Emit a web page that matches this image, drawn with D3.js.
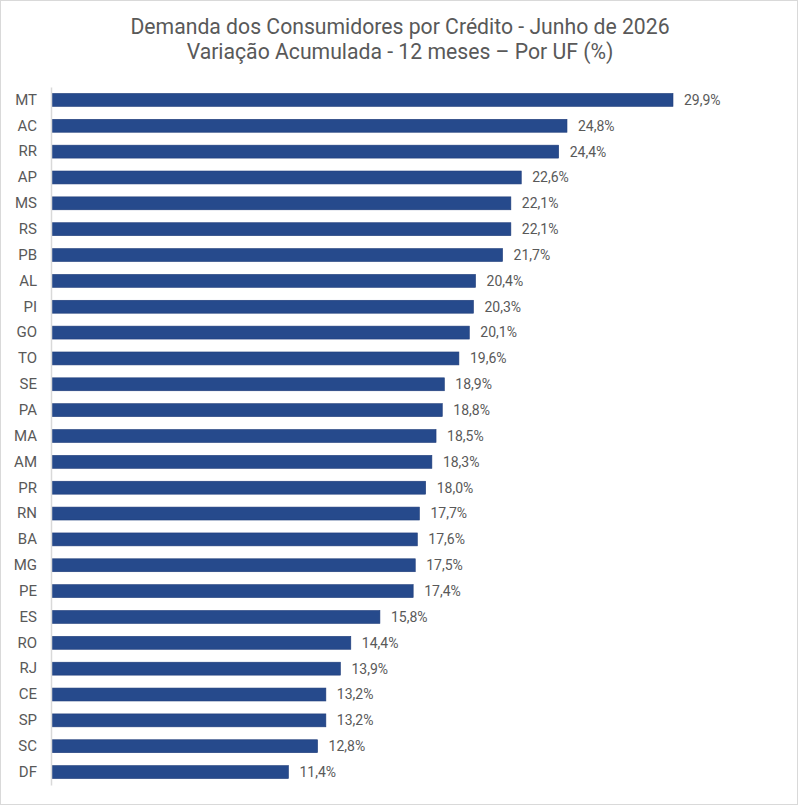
<!DOCTYPE html>
<html><head><meta charset="utf-8">
<script src="https://cdn.jsdelivr.net/npm/d3@7"></script>
<style>body{margin:0;background:#fff}svg{display:block}text{font-family:Roboto,sans-serif}</style>
</head><body><svg id="c" width="800" height="806"></svg>
<script>
const ufs = ["MT","AC","RR","AP","MS","RS","PB","AL","PI","GO","TO","SE","PA","MA","AM","PR","RN","BA","MG","PE","ES","RO","RJ","CE","SP","SC","DF"];
const values = [29.9,24.8,24.4,22.6,22.1,22.1,21.7,20.4,20.3,20.1,19.6,18.9,18.8,18.5,18.3,18.0,17.7,17.6,17.5,17.4,15.8,14.4,13.9,13.2,13.2,12.8,11.4];
const titleLines = ["Demanda dos Consumidores por Crédito - Junho de 2026","Variação Acumulada - 12 meses – Por UF (%)"];
const data = ufs.map((u,i)=>({uf:u,v:values[i]}));
const svg = d3.select("#c");
svg.append("rect").attr("x",0.5).attr("y",0.5).attr("width",797).attr("height",804).attr("fill","#fff").attr("stroke","#d9d9d9");
svg.selectAll("text.title").data(titleLines).join("text").attr("class","title")
  .attr("x",400).attr("y",(d,i)=>33.5+i*25).attr("text-anchor","middle")
  .attr("font-size",21.2).attr("fill","#595959").text(d=>d);
const x = d3.scaleLinear().domain([0,35]).range([51.5,779]);
const y = d3.scaleBand().domain(ufs).range([87,785]).paddingInner(0.5).paddingOuter(0.25);
svg.append("g").selectAll("rect").data(data).join("rect")
  .attr("x",x(0)).attr("y",d=>y(d.uf)).attr("width",d=>x(d.v)-x(0)).attr("height",y.bandwidth())
  .attr("fill","#264a8c").attr("stroke","#1f3c7a").attr("stroke-width",0.6);
const ax = svg.append("g").attr("transform",`translate(${x(0)-0.5},0)`).call(d3.axisLeft(y).tickSize(0).tickPadding(14));
ax.select(".domain").attr("stroke","#d9d9d9").attr("stroke-width",1.5);
ax.selectAll("text").attr("font-size",15).attr("fill","#595959").attr("font-family","Roboto,sans-serif");
svg.append("g").selectAll("text").data(data).join("text")
  .attr("x",d=>x(d.v)+11).attr("y",d=>y(d.uf)+y.bandwidth()/2).attr("dy","0.35em")
  .attr("font-size",14).attr("fill","#595959").text(d=>d3.format(".1f")(d.v).replace(".",",")+"%");
</script></body></html>
